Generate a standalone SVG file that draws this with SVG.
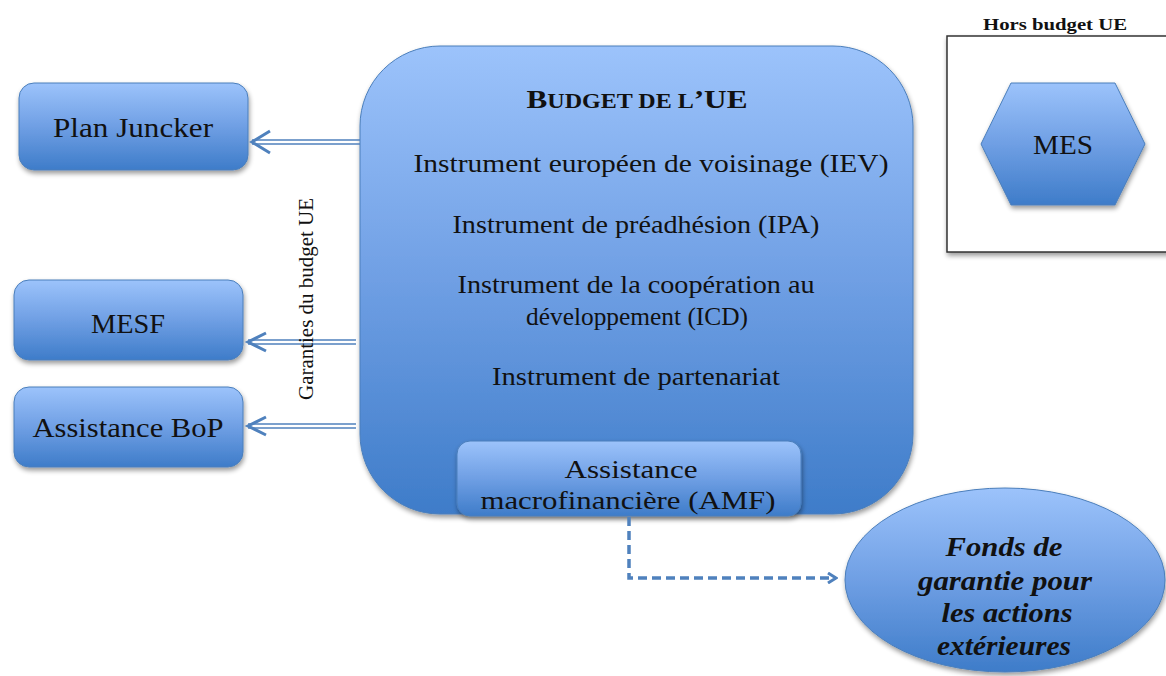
<svg xmlns="http://www.w3.org/2000/svg" width="1166" height="676" viewBox="0 0 1166 676">
  <style>
    .shape { stroke: #4a7ebb; stroke-width: 1; filter: url(#shadow); }
    .fill { fill: url(#blue); }
    .lbl { font-family: "Liberation Serif", "DejaVu Serif", serif; fill: #111; text-anchor: middle; }
    .conn { stroke: #4f81bd; fill: none; }
  </style>
  <defs>
    <linearGradient id="blue" x1="0" y1="0" x2="0" y2="1">
      <stop offset="0" stop-color="#9cc3fb"/>
      <stop offset="0.5" stop-color="#6f9fe4"/>
      <stop offset="1" stop-color="#3e7cc9"/>
    </linearGradient>
    <filter id="shadow" x="-10%" y="-10%" width="125%" height="125%">
      <feGaussianBlur in="SourceAlpha" stdDeviation="2.5"/>
      <feOffset dx="1" dy="3" result="b"/>
      <feComponentTransfer><feFuncA type="linear" slope="0.4"/></feComponentTransfer>
      <feMerge><feMergeNode/><feMergeNode in="SourceGraphic"/></feMerge>
    </filter>
    <marker id="dashHead" viewBox="0 0 12 12" refX="10" refY="6" markerWidth="12" markerHeight="12" markerUnits="userSpaceOnUse" orient="auto">
      <polyline points="2,1 10,6 2,11" fill="none" stroke="#4f81bd" stroke-width="3"/>
    </marker>
  </defs>

  <!-- Off-budget frame -->
  <g id="hors-budget">
    <rect x="947" y="36" width="225" height="216" fill="#fff" stroke="#333" stroke-width="1.5" filter="url(#shadow)"/>
    <text class="lbl" x="1055" y="30" font-size="16" font-weight="bold" textLength="144" lengthAdjust="spacingAndGlyphs">Hors budget UE</text>
  </g>

  <g id="mes">
    <polygon class="shape fill" points="1011,83 1115,83 1145,144 1115,205 1011,205 981,144"/>
    <text class="lbl" x="1063" y="154" font-size="27" textLength="60" lengthAdjust="spacingAndGlyphs">MES</text>
  </g>

  <!-- EU budget -->
  <g id="budget-ue">
    <rect class="shape fill" x="360" y="46" width="553" height="468" rx="80" ry="80"/>
    <text class="lbl" x="637" y="108" font-weight="bold" textLength="221" lengthAdjust="spacingAndGlyphs"><tspan font-size="26">B</tspan><tspan font-size="20">UDGET DE L</tspan><tspan font-size="26">’UE</tspan></text>
    <text class="lbl" x="651" y="172" font-size="26" textLength="475" lengthAdjust="spacingAndGlyphs">Instrument européen de voisinage (IEV)</text>
    <text class="lbl" x="636" y="233" font-size="26" textLength="367" lengthAdjust="spacingAndGlyphs">Instrument de préadhésion (IPA)</text>
    <text class="lbl" x="636" y="293" font-size="26" textLength="357" lengthAdjust="spacingAndGlyphs">Instrument de la coopération au</text>
    <text class="lbl" x="637" y="325" font-size="26" textLength="222" lengthAdjust="spacingAndGlyphs">développement (ICD)</text>
    <text class="lbl" x="636" y="385" font-size="26" textLength="288" lengthAdjust="spacingAndGlyphs">Instrument de partenariat</text>
  </g>

  <g id="amf">
    <rect class="shape fill" x="457" y="441" width="344" height="75" rx="13" ry="13"/>
    <text class="lbl" x="631" y="478" font-size="26" textLength="133" lengthAdjust="spacingAndGlyphs">Assistance</text>
    <text class="lbl" x="628" y="509" font-size="26" textLength="295" lengthAdjust="spacingAndGlyphs">macrofinancière (AMF)</text>
  </g>

  <g id="plan-juncker">
    <rect class="shape fill" x="19" y="83" width="229" height="87" rx="15" ry="15"/>
    <text class="lbl" x="133" y="137" font-size="27" textLength="160" lengthAdjust="spacingAndGlyphs">Plan Juncker</text>
  </g>

  <g id="mesf">
    <rect class="shape fill" x="14" y="280" width="229" height="80" rx="15" ry="15"/>
    <text class="lbl" x="128" y="333" font-size="27" textLength="74" lengthAdjust="spacingAndGlyphs">MESF</text>
  </g>

  <g id="assistance-bop">
    <rect class="shape fill" x="14" y="387" width="229" height="80" rx="15" ry="15"/>
    <text class="lbl" x="128" y="437" font-size="27" textLength="191" lengthAdjust="spacingAndGlyphs">Assistance BoP</text>
  </g>

  <g id="fonds-garantie">
    <ellipse class="shape fill" cx="1005" cy="580" rx="160" ry="92"/>
    <g class="lbl" font-size="28" font-style="italic" font-weight="bold">
      <text x="1004" y="556" textLength="117" lengthAdjust="spacingAndGlyphs">Fonds de</text>
      <text x="1005" y="590" textLength="174" lengthAdjust="spacingAndGlyphs">garantie pour</text>
      <text x="1007" y="622" textLength="131" lengthAdjust="spacingAndGlyphs">les actions</text>
      <text x="1004" y="655" textLength="134" lengthAdjust="spacingAndGlyphs">extérieures</text>
    </g>
  </g>

  <!-- Connectors -->
  <g id="connectors">
    <!-- double-line guarantee arrows -->
    <g class="conn" stroke-width="1.5">
      <line x1="360" y1="140" x2="252" y2="140"/>
      <line x1="360" y1="144" x2="252" y2="144"/>
      <polyline points="270,131 252,142 270,153" stroke-width="3"/>
      <line x1="356" y1="340" x2="248" y2="340"/>
      <line x1="356" y1="344" x2="248" y2="344"/>
      <polyline points="266,333 248,342 266,351" stroke-width="3"/>
      <line x1="356" y1="424" x2="248" y2="424"/>
      <line x1="356" y1="428" x2="248" y2="428"/>
      <polyline points="266,417 248,426 266,435" stroke-width="3"/>
    </g>
    <text class="lbl" font-size="20" transform="translate(313,299) rotate(-90)" textLength="202" lengthAdjust="spacingAndGlyphs">Garanties du budget UE</text>
    <!-- dashed link to guarantee fund -->
    <polyline class="conn" points="629,517 629,578 836,578" stroke-width="3.5" stroke-dasharray="9,5" marker-end="url(#dashHead)"/>
  </g>
</svg>
